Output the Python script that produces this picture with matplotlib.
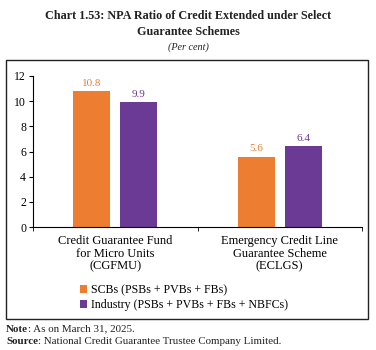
import numpy as np
import matplotlib.pyplot as plt
from matplotlib.patches import Rectangle

categories = ["Credit Guarantee Fund\nfor Micro Units\n(CGFMU)",
              "Emergency Credit Line\nGuarantee Scheme\n(ECLGS)"]
scbs = [10.8, 5.6]
industry = [9.9, 6.4]
series_names = ["SCBs (PSBs + PVBs + FBs)", "Industry (PSBs + PVBs + FBs + NBFCs)"]

orange = "#ED7D31"
purple = "#6A3A94"
plt.rcParams['font.family'] = ['Liberation Serif', 'DejaVu Serif']

fig = plt.figure(figsize=(3.76, 3.5), dpi=100)
ax = fig.add_axes([33/376, 1 - 227/350, (362 - 33)/376, (227 - 76)/350])

x = np.arange(len(categories))
w = 0.225
off = 0.143
b1 = ax.bar(x - off, scbs, w, color=orange, label=series_names[0])
b2 = ax.bar(x + off, industry, w, color=purple, label=series_names[1])
for bars, vals, c in [(b1, scbs, orange), (b2, industry, purple)]:
    for r, v in zip(bars, vals):
        ax.text(r.get_x() + r.get_width()/2, v + 0.25, f"{v:.1f}", ha='center',
                va='bottom', color=c, fontsize=8)

ax.set_xlim(-0.5, 1.5)
ax.set_ylim(0, 12)
ax.set_yticks(range(0, 13, 2))
ax.set_xticks(x)
ax.set_xticklabels(categories, fontsize=9, linespacing=1.05)
ax.set_xticks([-0.5, 0.5, 1.5], minor=True)
ax.tick_params(axis='x', which='major', length=0, pad=6)
ax.tick_params(axis='x', which='minor', length=3, direction='out')
ax.tick_params(axis='y', length=3, labelsize=8.5, pad=2)
for s in ['top', 'right']:
    ax.spines[s].set_visible(False)
ax.spines['left'].set_linewidth(0.8)
ax.spines['bottom'].set_linewidth(0.8)

fig.legend(handles=[b1, b2], loc='upper left', bbox_to_anchor=(80/376, 1 - 284/350),
           frameon=False, fontsize=8.6, handlelength=0.6, handleheight=0.6,
           handletextpad=0.3, labelspacing=0.28, borderaxespad=0, borderpad=0)

fig.patches.append(Rectangle((6/376, 1 - 319/350), (368 - 6)/376, (319 - 60)/350,
                             transform=fig.transFigure, fill=False, lw=1.0,
                             edgecolor='#222222'))

fig.text(0.5, 1 - 16/350, "Chart 1.53: NPA Ratio of Credit Extended under Select",
         ha='center', va='center', fontsize=8.7, fontweight='bold', color='#222222')
fig.text(0.5, 1 - 32/350, "Guarantee Schemes", ha='center', va='center',
         fontsize=8.7, fontweight='bold', color='#222222')
fig.text(0.5, 1 - 47/350, "(Per cent)", ha='center', va='center',
         fontsize=7.3, style='italic', color='#222222')

fig.canvas.draw()
r = fig.canvas.get_renderer()
for ypx, head, rest in [(329, "Note", ": As on March 31, 2025."),
                        (341, "Source", ": National Credit Guarantee Trustee Company Limited.")]:
    t = fig.text(6/376, 1 - ypx/350, head, ha='left', va='center', fontsize=7.9,
                 fontweight='bold', color='#222222')
    bb = t.get_window_extent(r)
    fig.text(bb.x1/fig.bbox.width, 1 - ypx/350, rest, ha='left', va='center',
             fontsize=7.9, color='#222222')

fig.savefig("out.png", dpi=100)
